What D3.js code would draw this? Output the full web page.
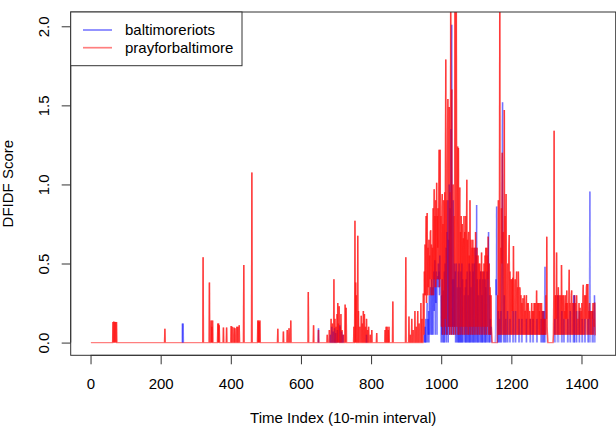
<!DOCTYPE html>
<html>
<head>
<meta charset="utf-8">
<script src="https://cdn.jsdelivr.net/npm/d3@7"></script>
<style>
  body { margin: 0; background: #fff; }
  svg { display: block; font-family: "Liberation Sans", Arial, sans-serif; }
</style>
</head>
<body>
<svg id="chart" width="616" height="426"></svg>
<script>
// series names (legend order)
var seriesNames = ["baltimoreriots", "prayforbaltimore"]
var nPoints = 1440

// sparse part (index < 950): only the non-zero 10-min slots
var prayIdx = [64, 66, 67, 69, 71, 72, 74, 212, 321, 339, 344, 346, 348, 363, 365, 367, 379, 388,
  401, 404, 409, 412, 417, 420, 424, 437, 460, 477, 479, 481, 483, 534, 550, 561, 566, 571,
  621, 636, 650, 675, 681, 686, 690, 694, 697, 700, 703, 705, 707, 709, 712, 714, 717, 721,
  726, 728, 729, 751, 754, 756, 758, 762, 764, 768, 772, 775, 778, 781, 784, 787, 790, 793,
  798, 802, 816, 840, 843, 846, 849, 851, 862, 899, 908, 912, 916, 920, 925, 929, 933, 937,
  942, 945, 949]
var prayVal = [.13, .13, .13, .13, .13, .12, .13, .087, .54, .38, .14, .10, .14, .12, .12, .11, .095, .095,
  .105, .10, .095, .09, .10, .10, .11, .49, 1.076, .14, .14, .13, .14, .087, .07, .08, .09, .14,
  .32, .11, .08, .05, .08, .15, .12, .40, .15, .10, .18, .25, .12, .23, .10, .18, .08, .05,
  .24, .20, .22, .10, .77, .38, .30, .675, .20, .10, .17, .12, .20, .18, .10, .15, .08, .10,
  .05, .08, .06, .08, .10, .10, .08, .10, .26, .54, .165, .05, .15, .08, .20, .10, .20, .12,
  .25, .15, .31]

var riotsIdx = [262, 264, 650, 684, 688, 692, 696, 699, 704, 711, 716, 720, 787]
var riotsVal = [.12, .12, .09, .05, .10, .07, .09, .06, .08, .11, .07, .05, .05]

// dense part, one value per slot from index 950 to 1440
var denseStart = 950
var prayDense = [
  .20, .05, .45, .30, .62, .30, .55, .80, .25, .70,
  .82, .30, .60, .35, .50, .65, .30, .55, .40, .70,
  .71, .30, .62, .45, .30, .60, .40, .85, .30, .75,
  .97, .40, .80, .35, .90, .35, .70, 1.01, .40, .80,
  .60, .85, .40, .90, 1.22, .35, .75, 1.22, .40, .80,
  .70, .10, .85, .94, .05, .75, .10, .90, .80, .05,
  .95, .15, 1.10, 1.79, .10, .90, .05, 1.00, 1.30, 1.54,
  .80, .10, 1.10, 1.49, .05, .95, .10, 2.30, 1.20, .05,
  1.60, .10, .55, .95, 1.00, .05, .30, .80, .10, 2.30,
  2.30, .05, .45, 2.30, .80, .10, .95, 1.24, .05, 1.23,
  .60, .05, .85, .98, .10, .70, .05, .80, .60, .10,
  .75, .05, .60, .66, .10, .80, .05, .70, .55, .10,
  .80, .05, .70, 1.03, .10, .65, .05, .60, .70, .05,
  .55, .10, .90, .50, .05, .65, .10, .55, .60, .05,
  .65, .10, .60, .45, .05, .55, .60, .10, .70, .05,
  .55, .10, .60, .45, .05, .55, .10, .50, .45, .05,
  .50, .10, .45, .30, .05, .57, .10, .45, .30, .05,
  .45, .10, .50, .35, .05, .55, .10, .60, .35, .05,
  .60, .10, .55, .40, .67, .05, .30, .50, .05, .35,
  .30, .05, .30, .10, .05, 0, 0, 0, 0, 0,
  0, 0, 0, 0, 0, 0, 0, 0, 0, 0,
  0, .30, .05, .90, .40, .05, .75, 2.30, .05, .50,
  .60, .05, .85, .50, 1.20, .05, .55, .70, .05, .65,
  1.47, .05, .80, .35, .05, .94, .40, .05, .30, .45,
  .50, .05, .40, .60, .68, .05, .45, .20, .05, .40,
  .35, .05, .40, .20, .41, .05, .61, .25, .05, .20,
  .30, .40, .05, .25, .30, .45, .05, .30, .35, .05,
  .45, .30, .05, .25, .35, .33, .05, .30, .25, .05,
  .25, .20, .05, .28, .20, .05, .15, .30, .05, .20,
  .20, .05, .25, .30, .05, .15, .25, .05, .25, .20,
  .05, .10, .20, .05, .15, .10, .05, .15, .25, .05,
  .20, .05, .10, .20, .05, .25, .10, .05, .25, .15,
  .05, .15, .33, .05, .10, .25, .05, .20, .25, .05,
  .20, .05, .25, .10, .05, .15, .25, .05, .20, .05,
  .15, .05, .20, .05, .15, .05, .10, .15, .05, .30,
  .15, .67, .10, .05, 0, 0, 0, 0, 0, 0,
  0, 0, 0, 0, 0, 0, 0, 0, 0, 0,
  .05, .30, 1.34, .05, .15, .30, .05, .30, .15, .57,
  .05, .15, .30, .05, .35, .15, .05, .30, .20, .05,
  .15, .30, .05, .49, .25, .05, .30, .20, .05, .30,
  .15, .05, .20, .15, .30, .05, .25, .15, .33, .05,
  .25, .15, .05, .20, .30, .46, .05, .25, .20, .05,
  .15, .30, .33, .05, .15, .25, .05, .15, .25, .05,
  .30, .20, .05, .25, .15, .05, .30, .15, .05, .10,
  .15, .05, .10, .25, .05, .20, .22, .05, .15, .20,
  .05, .25, .20, .05, .30, .365, .05, .15, .20, .30,
  .05, .20, .30, .15, .35, .37, .05, .20, .37, .15,
  .05, .20, .15, .25, .05, .20, .15, .05, .20, .15,
  .05, .20, .15, .25, .05, .15, .10, .25, .25, .05,
  .05]
var riotsDense = [
  0, 0, .05, 0, .10, 0, .15, 0, .10, .20,
  .25, 0, .15, .05, .20, 0, .30, .05, .10, .25,
  .35, .05, .30, .40, .05, .25, .35, .05, .30, .45,
  .20, .40, .52, .05, .35, .25, .45, .30, .05, .40,
  .42, .35, .50, .40, .45, .30, .55, .40, .35, .30,
  0, .30, .05, .40, 0, .20, .33, 0, .30, .45,
  0, .50, .05, .40, .60, 0, .70, .05, .50, .90,
  0, .65, .10, 1.00, .05, .85, .10, .30, 1.35, .05,
  2.01, .10, .40, .05, .90, .10, .40, .05, .50, .10,
  .45, 0, .30, .50, 0, 0, .35, 0, 0, .45,
  0, .50, 0, 0, .35, 0, .45, 0, 0, .50,
  0, .40, 0, 0, 0, .10, .30, 0, 0, .35,
  0, .40, 0, 0, .45, 0, 0, .30, 0, 0,
  .50, 0, .45, 0, 0, .35, 0, 0, .15, .50,
  0, .45, 0, 0, .50, 0, 0, .60, 0, 0,
  .35, .87, 0, .40, 0, 0, .30, 0, 0, .25,
  .40, 0, 0, .45, 0, 0, .30, 0, .40, 0,
  0, .25, .45, 0, 0, .40, 0, .35, 0, 0,
  .20, .45, 0, 0, .35, .70, 0, 0, .30, 0,
  .15, .05, .10, 0, 0, 0, 0, 0, 0, 0,
  0, 0, 0, 0, 0, .05, .40, .30, .86, .20,
  .10, 0, 0, .20, 0, 0, .15, 0, 0, 0,
  .20, 0, .30, .50, 1.35, 1.52, .40, 0, 0, 0,
  .30, 0, 0, 0, .15, 0, 0, 0, 0, .20,
  0, 0, 0, 0, 0, 0, .15, 0, 0, 0,
  0, 0, 0, 0, 0, .20, 0, 0, 0, 0,
  0, 0, .20, 0, 0, 0, 0, 0, 0, 0,
  0, 0, .15, 0, 0, 0, 0, 0, 0, 0,
  .15, 0, 0, 0, 0, 0, 0, 0, 0, 0,
  0, 0, 0, .15, 0, 0, 0, 0, 0, 0,
  0, 0, 0, 0, .15, 0, 0, 0, 0, 0,
  0, 0, .15, 0, 0, 0, 0, 0, 0, 0,
  0, 0, 0, .15, 0, 0, 0, 0, 0, 0,
  0, 0, 0, 0, 0, .15, 0, 0, 0, .20,
  0, 0, 0, .20, 0, .30, .48, .10, 0, 0,
  0, 0, 0, 0, 0, 0, 0, 0, 0, 0,
  0, 0, 0, 0, 0, 0, 0, 0, 0, 0,
  0, 0, 0, 0, .15, 0, 0, 0, 0, 0,
  0, 0, .20, .30, .15, 0, 0, 0, 0, 0,
  0, 0, 0, 0, .20, 0, 0, 0, 0, 0,
  .15, 0, 0, 0, 0, 0, 0, 0, 0, 0,
  0, .15, 0, 0, 0, 0, 0, 0, .20, 0,
  0, 0, 0, 0, 0, 0, 0, .20, .30, 0,
  .30, 0, 0, 0, 0, 0, .20, 0, 0, 0,
  0, 0, 0, 0, .20, 0, 0, 0, 0, 0,
  0, 0, .15, 0, 0, 0, 0, 0, 0, 0,
  .15, 0, 0, 0, 0, 0, 0, 0, 0, .15,
  0, 0, 0, .40, .955, .30, 0, 0, 0, 0,
  0, 0, .20, 0, 0, 0, 0, .30, .20, 0,
  0]

var xTicks = [0, 200, 400, 600, 800, 1000, 1200, 1400]
var yTicks = [0, 0.5, 1.0, 1.5, 2.0]
var xTitle = "Time Index (10-min interval)"
var yTitle = "DFIDF Score"
var colors = ["rgba(0,0,255,0.5)", "rgba(255,0,0,0.5)"]
// single segments are fainter so that up+down strokes of one spike end near 0.5
var segColors = ["rgba(0,0,255,0.33)", "rgba(255,0,0,0.33)"]

function buildSeries(idx, vals, dense){
  var s = d3.range(1, nPoints + 1).map(function(i){ return {t: i, v: 0} })
  idx.forEach(function(t, k){ s[t - 1].v = vals[k] })
  dense.forEach(function(v, k){
    var t = denseStart + k
    if (t <= nPoints) s[t - 1].v = v
  })
  return s
}
var riots = buildSeries(riotsIdx, riotsVal, riotsDense)
var pray = buildSeries(prayIdx, prayVal, prayDense)

// consecutive point pairs; each is stroked on its own so the
// translucent colour builds up where the segments pile on each other
function segments(s){
  var out = []
  for (var i = 0; i < s.length - 1; i++){
    if (s[i].v === 0 && s[i + 1].v === 0) continue
    out.push([s[i], s[i + 1]])
  }
  return out
}

// plot region in px (R-like margins)
var plot = {left: 70.7, right: 615.7, top: 12, bottom: 355.3}

// R pads the data range by 4% on each side
var xPad = (nPoints - 1) * 0.04
var xScale = d3.scaleLinear().domain([1 - xPad, nPoints + xPad]).range([plot.left, plot.right])
var yScale = d3.scaleLinear().domain([-0.0804, 2.0904]).range([plot.bottom, plot.top])

var svg = d3.select("#chart")

svg.append("defs").append("clipPath").attr("id", "clip")
  .append("rect")
  .attr("x", plot.left).attr("y", plot.top)
  .attr("width", plot.right - plot.left).attr("height", plot.bottom - plot.top)

var line = d3.line()
  .x(function(d){ return xScale(d.t) })
  .y(function(d){ return yScale(d.v) })

var g = svg.append("g").attr("clip-path", "url(#clip)")

// red baseline as one path, so it does not darken at every join
g.append("path").datum(pray)
  .attr("fill", "none").attr("stroke", colors[1]).attr("stroke-width", 1.4)
  .attr("d", line)

g.append("g").selectAll("path")
  .data(segments(riots))
  .join("path")
  .attr("fill", "none").attr("stroke", segColors[0]).attr("stroke-width", 1.5)
  .attr("d", line)

g.append("g").selectAll("path")
  .data(segments(pray))
  .join("path")
  .attr("fill", "none").attr("stroke", segColors[1]).attr("stroke-width", 1.5)
  .attr("d", line)

// box
svg.append("rect")
  .attr("x", plot.left).attr("y", plot.top)
  .attr("width", plot.right - plot.left).attr("height", plot.bottom - plot.top)
  .attr("fill", "none").attr("stroke", "#333").attr("stroke-width", 1)

// x axis
var xAxis = svg.append("g")
  .attr("transform", "translate(0," + plot.bottom + ")")
  .call(d3.axisBottom(xScale).tickValues(xTicks).tickSize(9).tickFormat(d3.format("d")))
xAxis.select(".domain").remove()
xAxis.append("line")
  .attr("x1", xScale(xTicks[0])).attr("x2", xScale(xTicks[xTicks.length - 1]))
  .attr("stroke", "#333")
xAxis.selectAll(".tick line").attr("stroke", "#333")
xAxis.selectAll("text")
  .attr("y", 34).attr("dy", 0)
  .attr("fill", "#000").style("font-size", "15px")
  .style("font-family", "Liberation Sans, Arial, sans-serif")

// y axis, labels parallel to the axis like R
var yAxis = svg.append("g")
  .attr("transform", "translate(" + plot.left + ",0)")
  .call(d3.axisLeft(yScale).tickValues(yTicks).tickSize(9).tickFormat(d3.format(".1f")))
yAxis.select(".domain").remove()
yAxis.append("line")
  .attr("y1", yScale(yTicks[0])).attr("y2", yScale(yTicks[yTicks.length - 1]))
  .attr("stroke", "#333")
yAxis.selectAll(".tick line").attr("stroke", "#333")
yAxis.selectAll("text")
  .attr("transform", "rotate(-90)")
  .attr("x", 0).attr("y", -22).attr("dy", 0)
  .style("text-anchor", "middle")
  .attr("fill", "#000").style("font-size", "15px")
  .style("font-family", "Liberation Sans, Arial, sans-serif")

// axis titles
svg.append("text")
  .attr("x", (plot.left + plot.right) / 2).attr("y", 423)
  .attr("text-anchor", "middle").style("font-size", "15px")
  .text(xTitle)
svg.append("text")
  .attr("transform", "translate(13," + (plot.top + plot.bottom) / 2 + ")rotate(-90)")
  .attr("text-anchor", "middle").style("font-size", "15px")
  .text(yTitle)

// legend
var legend = svg.append("g")
legend.append("rect")
  .attr("x", plot.left).attr("y", plot.top)
  .attr("width", 242 - plot.left).attr("height", 65.7 - plot.top)
  .attr("fill", "#fff").attr("stroke", "#333")
seriesNames.forEach(function(name, i){
  var y = 30 + i * 17.7
  legend.append("line")
    .attr("x1", 83).attr("x2", 112).attr("y1", y).attr("y2", y)
    .attr("stroke", colors[i]).attr("stroke-width", 1.7)
  legend.append("text")
    .attr("x", 125).attr("y", y).attr("dy", "0.35em")
    .style("font-size", "15px")
    .text(name)
})
</script>
</body>
</html>
